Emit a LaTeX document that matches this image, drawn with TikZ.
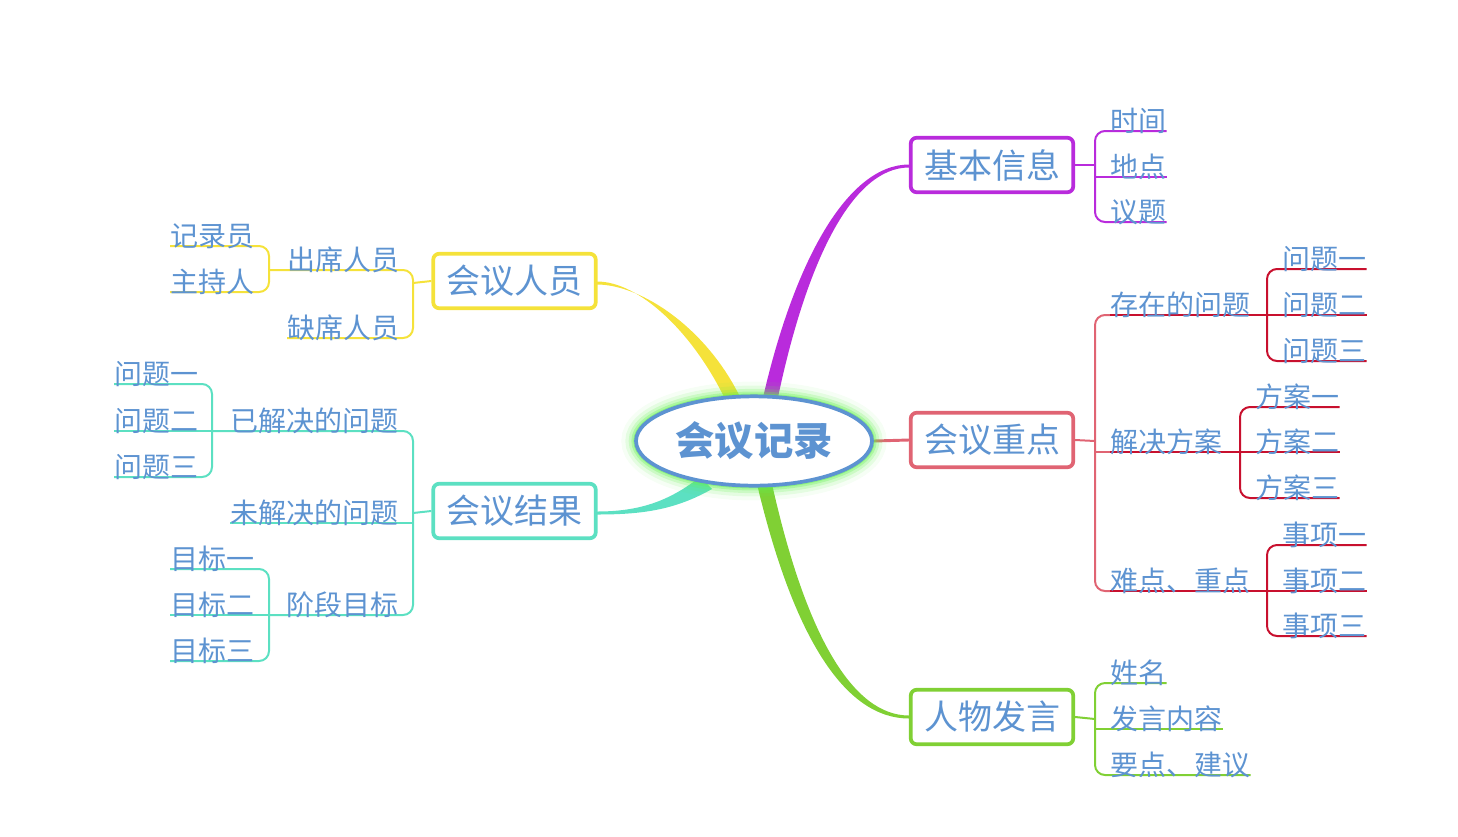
\documentclass[tikz,border=0pt]{standalone}
\usepackage{fontspec}
\setmainfont{Noto Sans CJK SC}
\usetikzlibrary{shapes.geometric}
\definecolor{txt}{RGB}{93,147,209}
\definecolor{cpurp}{RGB}{185,43,220}
\definecolor{cpink}{RGB}{224,100,115}
\definecolor{cdred}{RGB}{200,16,46}
\definecolor{cgrn}{RGB}{128,208,52}
\definecolor{cyel}{RGB}{245,226,58}
\definecolor{cteal}{RGB}{92,224,194}
\definecolor{cglow}{RGB}{100,240,80}
\pgfdeclarelayer{back}
\pgfsetlayers{back,main}
\tikzset{
  mainbox/.style={draw, rounded corners=4.5pt, line width=2.8pt, fill=white,
    minimum width=121.9pt, minimum height=40.9pt, inner sep=0pt, text=txt,
    font=\fontsize{25.5pt}{26pt}\selectfont},
  leaf/.style={anchor=base west, inner sep=0pt, text=txt,
    font=\fontsize{21pt}{22pt}\selectfont},
  br/.style={line width=1.5pt},
  rc/.style={rounded corners=7.5pt},
}
\begin{document}
\begin{tikzpicture}[x=0.75pt,y=-0.75pt]
\useasboundingbox (0,0) rectangle (1458,836);

% center
\node[ellipse, draw=txt, line width=2.8pt, fill=white, minimum width=177pt,
  minimum height=67pt, inner sep=0pt, text=txt,
  font=\fontsize{29.5pt}{30pt}\selectfont\bfseries] (c) at (754,441) {会议记录};

% main boxes
\node[mainbox, draw=cpurp] (jb) at (992,165) {基本信息};
\node[mainbox, draw=cpink] (zd) at (992,440) {会议重点};
\node[mainbox, draw=cgrn]  (fy) at (992,717) {人物发言};
\node[mainbox, draw=cyel]  (ry) at (514.5,281) {会议人员};
\node[mainbox, draw=cteal] (jg) at (514.5,511) {会议结果};

% leaf texts
\begin{scope}[every node/.append style={leaf}]
\path
 (1110,131) node (t1) {时间}
 (1110,177) node (t2) {地点}
 (1110,222) node (t3) {议题}
 (1110,315) node (q) {存在的问题}
 (1110,452) node (s) {解决方案}
 (1110,591) node (n) {难点、重点}
 (1282,269) node (q1) {问题一}
 (1282,315) node (q2) {问题二}
 (1282,361) node (q3) {问题三}
 (1255,407) node (s1) {方案一}
 (1255,452) node (s2) {方案二}
 (1255,498) node (s3) {方案三}
 (1282,545) node (n1) {事项一}
 (1282,591) node (n2) {事项二}
 (1282,636) node (n3) {事项三}
 (1110,683) node (p1) {姓名}
 (1110,729) node (p2) {发言内容}
 (1110,775) node (p3) {要点、建议}
 (287,270) node (cx) {出席人员}
 (287,338) node (qx) {缺席人员}
 (170,246) node (jl) {记录员}
 (170,292) node (zc) {主持人}
 (230,431) node (yj) {已解决的问题}
 (230,523) node (wj) {未解决的问题}
 (286,615) node (jd) {阶段目标}
 (114,384) node (w1) {问题一}
 (114,431) node (w2) {问题二}
 (114,477) node (w3) {问题三}
 (170,569) node (m1) {目标一}
 (170,615) node (m2) {目标二}
 (170,661) node (m3) {目标三};
\end{scope}

% bracket points
\coordinate (jbB) at (1095,165);
\coordinate (zdB) at (1095,441);
\coordinate (fyB) at (1095,719);
\coordinate (qB) at (1267,315);
\coordinate (sB) at (1240,452);
\coordinate (nB) at (1267,591);
\coordinate (ryB) at (413,283);
\coordinate (cxB) at (269,270);
\coordinate (jgB) at (413,513);
\coordinate (yjB) at (212,431);
\coordinate (jdB) at (269,615);

\begin{pgfonlayer}{back}
% tapered main branches
\fill[cpurp] (762,402) .. controls (794,260) and (848,164.5) .. (909,164.5)
  -- (909,167.5) .. controls (852,167.5) and (806,262) .. (777,402) -- cycle;
\fill[cyel] (726,401) .. controls (693,332) and (639,281.5) .. (597,281.5)
  -- (597,284.5) .. controls (641,284.5) and (707,328) .. (741,399) -- cycle;
\fill[cgrn] (757,484) .. controls (794,640) and (846,718.5) .. (909,718.5)
  -- (909,715.5) .. controls (853,715.5) and (806,636) .. (772,484) -- cycle;
\fill[cteal] (700,477) .. controls (668,502) and (638,511.5) .. (597,511.5)
  -- (597,514.5) .. controls (642,514.5) and (675,510) .. (712,489) -- cycle;
\draw[cpink, line width=2.2pt] (c.east) -- (zd.west);

% glow
\foreach \w/\o in {22/0.06, 16/0.12, 11/0.2, 7/0.3, 4/0.45}
  \draw[cglow, line width=\w pt, opacity=\o] (c.center) ellipse [x radius=88.5pt, y radius=33.6pt];

% 基本信息
\draw[br, cpurp] (jb.east) -- (jbB);
\draw[br, cpurp, rc] (jbB) |- (t1.base east);
\draw[br, cpurp] (jbB |- t2.base) -- (t2.base east);
\draw[br, cpurp, rc] (jbB) |- (t3.base east);

% 会议重点
\draw[br, cpink] (zd.east) -- (zdB);
\draw[br, cpink, rc] (zdB) |- (q.base west);
\draw[br, cpink] (zdB) -- (zdB |- s.base) -- (s.base west);
\draw[br, cpink, rc] (zdB) |- (n.base west);
\draw[br, cdred] (q.base west) -- (qB);
\draw[br, cdred] (s.base west) -- (sB);
\draw[br, cdred] (n.base west) -- (nB);
\draw[br, cdred, rc] (qB) |- (q1.base east);
\draw[br, cdred] (qB) -- (q2.base east);
\draw[br, cdred, rc] (qB) |- (q3.base east);
\draw[br, cdred, rc] (sB) |- (s1.base east);
\draw[br, cdred] (sB) -- (s2.base east);
\draw[br, cdred, rc] (sB) |- (s3.base east);
\draw[br, cdred, rc] (nB) |- (n1.base east);
\draw[br, cdred] (nB) -- (n2.base east);
\draw[br, cdred, rc] (nB) |- (n3.base east);

% 人物发言
\draw[br, cgrn] (fy.east) -- (fyB);
\draw[br, cgrn, rc] (fyB) |- (p1.base east);
\draw[br, cgrn] (fyB |- p2.base) -- (p2.base east);
\draw[br, cgrn, rc] (fyB) |- (p3.base east);

% 会议人员
\draw[br, cyel] (ry.west) -- (ryB);
\draw[br, cyel, rc] (ryB) |- (cx.base west) -- (cxB);
\draw[br, cyel, rc] (ryB) |- (qx.base west);
\draw[br, cyel, rc] (cxB) |- (jl.base west);
\draw[br, cyel, rc] (cxB) |- (zc.base west);

% 会议结果
\draw[br, cteal] (jg.west) -- (jgB);
\draw[br, cteal, rc] (jgB) |- (yj.base west) -- (yjB);
\draw[br, cteal] (jgB) -- (jgB |- wj.base) -- (wj.base west);
\draw[br, cteal, rc] (jgB) |- (jd.base west) -- (jdB);
\draw[br, cteal, rc] (yjB) |- (w1.base west);
\draw[br, cteal] (yjB) -- (w2.base west);
\draw[br, cteal, rc] (yjB) |- (w3.base west);
\draw[br, cteal, rc] (jdB) |- (m1.base west);
\draw[br, cteal] (jdB) -- (m2.base west);
\draw[br, cteal, rc] (jdB) |- (m3.base west);
\end{pgfonlayer}
\end{tikzpicture}
\end{document}
